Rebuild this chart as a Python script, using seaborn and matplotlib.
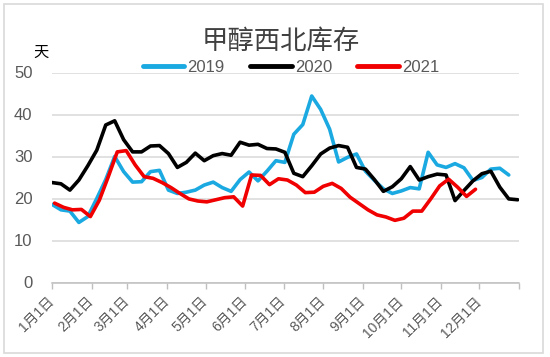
import numpy as np
import pandas as pd
import matplotlib
matplotlib.use("Agg")
import matplotlib.pyplot as plt
import seaborn as sns
from matplotlib.patches import Rectangle
from matplotlib.lines import Line2D

# ---- data (weekly readings, days per year) ----
years = ["2019", "2020", "2021"]
start_dates = ["2019-01-01", "2020-01-01", "2021-01-03"]

vals_2019 = [18.6, 17.3, 17.0, 14.3, 15.7, 20.0, 24.5, 30.0, 26.4, 23.9,
             24.0, 26.4, 26.7, 22.0, 21.2, 21.5, 22.0, 23.2, 23.9, 22.6,
             21.7, 24.5, 26.3, 24.2, 26.5, 29.0, 28.6, 35.3, 37.6, 44.4,
             41.2, 36.5, 28.7, 29.8, 30.6, 26.5, 24.3, 22.3, 21.2, 21.8,
             22.6, 22.3, 31.0, 28.0, 27.4, 28.3, 27.3, 24.3, 25.0, 27.0,
             27.2, 25.6]
vals_2020 = [23.8, 23.5, 22.0, 24.4, 27.8, 31.5, 37.5, 38.5, 34.0, 31.1,
             31.1, 32.5, 32.6, 30.7, 27.4, 28.6, 30.8, 29.0, 30.2, 30.7,
             30.3, 33.4, 32.7, 32.9, 31.9, 31.8, 31.0, 26.0, 25.2, 27.8,
             30.6, 32.0, 32.6, 32.2, 27.4, 27.0, 24.5, 21.7, 22.8, 24.7,
             27.6, 24.4, 25.2, 25.8, 25.6, 19.5, 21.9, 24.2, 25.9, 26.5,
             22.7, 19.9, 19.7]
vals_2021 = [18.9, 17.9, 17.3, 17.4, 15.7, 19.6, 25.2, 31.1, 31.4, 28.0,
             25.2, 24.8, 23.8, 22.6, 21.2, 19.9, 19.4, 19.2, 19.7, 20.2,
             20.4, 18.2, 25.6, 25.5, 23.3, 24.7, 24.4, 23.2, 21.4, 21.5,
             22.9, 23.6, 22.4, 20.3, 18.8, 17.3, 16.1, 15.6, 14.8, 15.3,
             17.0, 17.0, 19.9, 23.0, 24.6, 22.7, 20.5, 22.2]
series_vals = [vals_2019, vals_2020, vals_2021]

month_labels = ["1月1日", "2月1日", "3月1日", "4月1日", "5月1日", "6月1日",
                "7月1日", "8月1日", "9月1日", "10月1日", "11月1日", "12月1日"]
month_days = [0, 31, 59, 90, 120, 151, 181, 212, 243, 273, 304, 334, 365]
yticks = [0, 10, 20, 30, 40, 50]

colors = {"2019": "#1BA9E1", "2020": "#000000", "2021": "#F00000"}

frames = []
for yr, sd, v in zip(years, start_dates, series_vals):
    d = pd.date_range(sd, periods=len(v), freq="7D")
    day = (d - pd.Timestamp(f"{yr}-01-01")).days
    frames.append(pd.DataFrame({"day": day, "value": v, "year": yr}))
df = pd.concat(frames, ignore_index=True)

# ---- style ----
sns.set_theme(style="white")
plt.rcParams["font.family"] = ["Liberation Sans", "Noto Sans CJK SC", "DejaVu Sans"]

fig = plt.figure(figsize=(5.5, 3.57), dpi=100)
fig.patch.set_facecolor("white")
ax = fig.add_axes([52/550, 1-282.5/357, (519-52)/550, (282.5-72.5)/357])

sns.lineplot(data=df, x="day", y="value", hue="year", palette=colors,
             linewidth=2.6, estimator=None, sort=False, ax=ax, legend=False)

ax.set_xlim(0, 365)
ax.set_ylim(0, 50)
ax.set_yticks(yticks)
ax.set_yticklabels([str(t) for t in yticks], fontsize=12, color="#595959")
ax.set_xticks(month_days)
ax.set_xticklabels(month_labels + [""], fontsize=10, color="#595959",
                   rotation=45, ha="right", va="center", rotation_mode="anchor")
ax.tick_params(axis="x", length=4, width=1, color="#BFBFBF", pad=8,
               direction="out", bottom=True)
ax.tick_params(axis="y", length=0, pad=14)
ax.set_xlabel("")
ax.set_ylabel("")
ax.grid(axis="y", color="#D9D9D9", linewidth=1.1)
ax.set_axisbelow(True)
for s in ["left", "right", "top"]:
    ax.spines[s].set_visible(False)
ax.spines["bottom"].set_color("#BFBFBF")
ax.spines["bottom"].set_linewidth(1.1)

# legend
handles = [Line2D([], [], color=colors[y], linewidth=3.5) for y in years]
fig.legend(handles, years, loc="center", bbox_to_anchor=(291/550, 1-67/357),
           ncol=3, frameon=False, fontsize=12, handlelength=2.5,
           handletextpad=0.2, columnspacing=1.5, labelcolor="#595959")

fig.text(281/550, 1-41/357, "甲醇西北库存", ha="center", va="center",
         fontsize=19, color="#404040", family=["Noto Sans CJK SC"],
         fontweight="light")
fig.text(41/550, 1-52/357, "天", ha="center", va="center",
         fontsize=11, color="#000000", family=["Noto Sans CJK SC"])

fig.patches.append(Rectangle((3.5/550, 1-353/357), (543-3.5)/550, (353-4)/357,
                             transform=fig.transFigure, fill=False,
                             edgecolor="#D9D9D9", linewidth=1.2))

fig.savefig("out.png", dpi=100)
